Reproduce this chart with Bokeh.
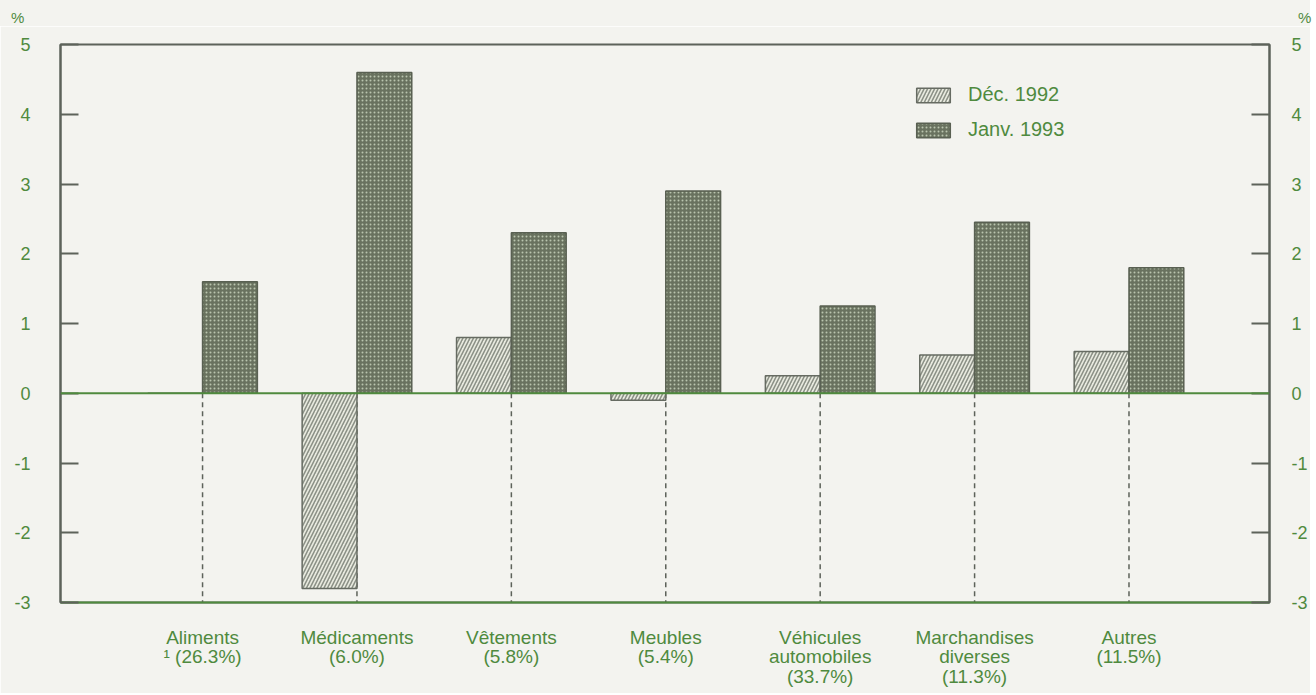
from bokeh.plotting import figure
from bokeh.layouts import column
from bokeh.models import (Range1d, LinearAxis, Legend, LegendItem, Span, Div,
                          ColumnDataSource, FixedTicker)
from bokeh.transform import dodge
from bokeh.embed import file_html
from bokeh.resources import INLINE

# ---- data ----
categories = ["Aliments\n\u00b9 (26.3%)", "M\u00e9dicaments\n(6.0%)", "V\u00eatements\n(5.8%)",
              "Meubles\n(5.4%)", "V\u00e9hicules\nautomobiles\n(33.7%)",
              "Marchandises\ndiverses\n(11.3%)", "Autres\n(11.5%)"]
dec_1992 = [0.0, -2.8, 0.8, -0.1, 0.25, 0.55, 0.6]
jan_1993 = [1.6, 4.6, 2.3, 2.9, 1.25, 2.45, 1.8]
y_ticks = [-3, -2, -1, 0, 1, 2, 3, 4, 5]
series_names = ["D\u00e9c. 1992", "Janv. 1993"]
unit_label = "%"

GREEN = "#4f8a3e"
DARK = "#5d625a"
BG = "#f3f3ef"
FONT = "Liberation Sans"

xpos = list(range(1, len(categories) + 1))
ymin, ymax = y_ticks[0], y_ticks[-1]
src = ColumnDataSource(dict(x=xpos, dec=dec_1992, jan=jan_1993,
                            base=[0] * len(xpos), low=[ymin] * len(xpos)))

TOP_H = 26
p = figure(width=1310, height=693 - TOP_H, output_backend="svg", toolbar_location=None,
           x_range=Range1d(0.08, 7.91), y_range=Range1d(ymin, ymax),
           background_fill_color=BG, border_fill_color=BG,
           min_border_left=60, min_border_right=37, min_border_top=44 - TOP_H,
           min_border_bottom=91)
p.outline_line_color = DARK
p.outline_line_width = 2
p.xgrid.visible = False
p.ygrid.visible = False

# dashed category lines
p.segment(x0="x", y0="base", x1="x", y1="low", source=src,
          line_color=DARK, line_dash="5 4", line_width=1.5)

bw = 0.355
r_dec = p.vbar(x=dodge("x", -bw / 2, range=p.x_range), top="dec", bottom=0, width=bw, source=src,
               fill_color="#e9ebe0", line_color="#666b62", line_width=1.5,
               hatch_pattern="right_diagonal_line", hatch_color="#8c9187",
               hatch_scale=7, hatch_weight=1.6)
r_jan = p.vbar(x=dodge("x", bw / 2, range=p.x_range), top="jan", bottom=0, width=bw, source=src,
               fill_color="#69725f", line_color="#596052", line_width=1.5,
               hatch_pattern="dot", hatch_color="#b9c4ae", hatch_scale=4, hatch_weight=1)

p.add_layout(Span(location=0, dimension="width", line_color=GREEN, line_width=2))

# axes
ax = p.xaxis[0]
ax.ticker = FixedTicker(ticks=xpos)
ax.major_label_overrides = {x: c for x, c in zip(xpos, categories)}
ax.major_tick_line_color = None
ax.minor_tick_line_color = None
ax.axis_line_color = GREEN
ax.axis_line_width = 2
ax.major_label_text_color = GREEN
ax.major_label_text_font = FONT
ax.major_label_text_font_size = "19px"
ax.major_label_text_line_height = 0.95
ax.major_label_standoff = 18

ly = p.yaxis[0]
ry = LinearAxis()
p.add_layout(ry, "right")
for a, st in ((ly, 30), (ry, 22)):
    a.ticker = FixedTicker(ticks=y_ticks)
    a.major_label_overrides = {t: str(t) for t in y_ticks}
    a.major_tick_in = 18
    a.major_tick_out = 0
    a.major_tick_line_color = DARK
    a.major_tick_line_width = 2
    a.minor_tick_line_color = None
    a.axis_line_color = DARK
    a.axis_line_width = 2
    a.major_label_text_color = GREEN
    a.major_label_text_font = FONT
    a.major_label_text_font_size = "18px"
    a.major_label_standoff = st
ry.major_label_text_align = "left"

legend = Legend(items=[LegendItem(label=series_names[0], renderers=[r_dec]),
                       LegendItem(label=series_names[1], renderers=[r_jan])],
                location=(852, 461), orientation="vertical",
                glyph_width=42, glyph_height=18, label_height=18, spacing=12,
                padding=0, margin=0, label_standoff=14,
                label_text_font=FONT, label_text_font_size="20px", label_text_color=GREEN,
                background_fill_alpha=0, border_line_color=None)
p.add_layout(legend)

top = Div(text=(
    f'<div style="position:relative;width:1310px;height:{TOP_H}px;font-family:\'{FONT}\';'
    f'font-size:15px;color:{GREEN};">'
    f'<span style="position:absolute;left:11px;top:7px;">{unit_label}</span>'
    f'<span style="position:absolute;left:1298px;top:7px;">{unit_label}</span></div>'),
    width=1310, height=TOP_H, margin=0,
    styles={"background-color": BG})

layout = column(top, p, spacing=0)
open("out.html", "w").write(file_html(layout, INLINE))
